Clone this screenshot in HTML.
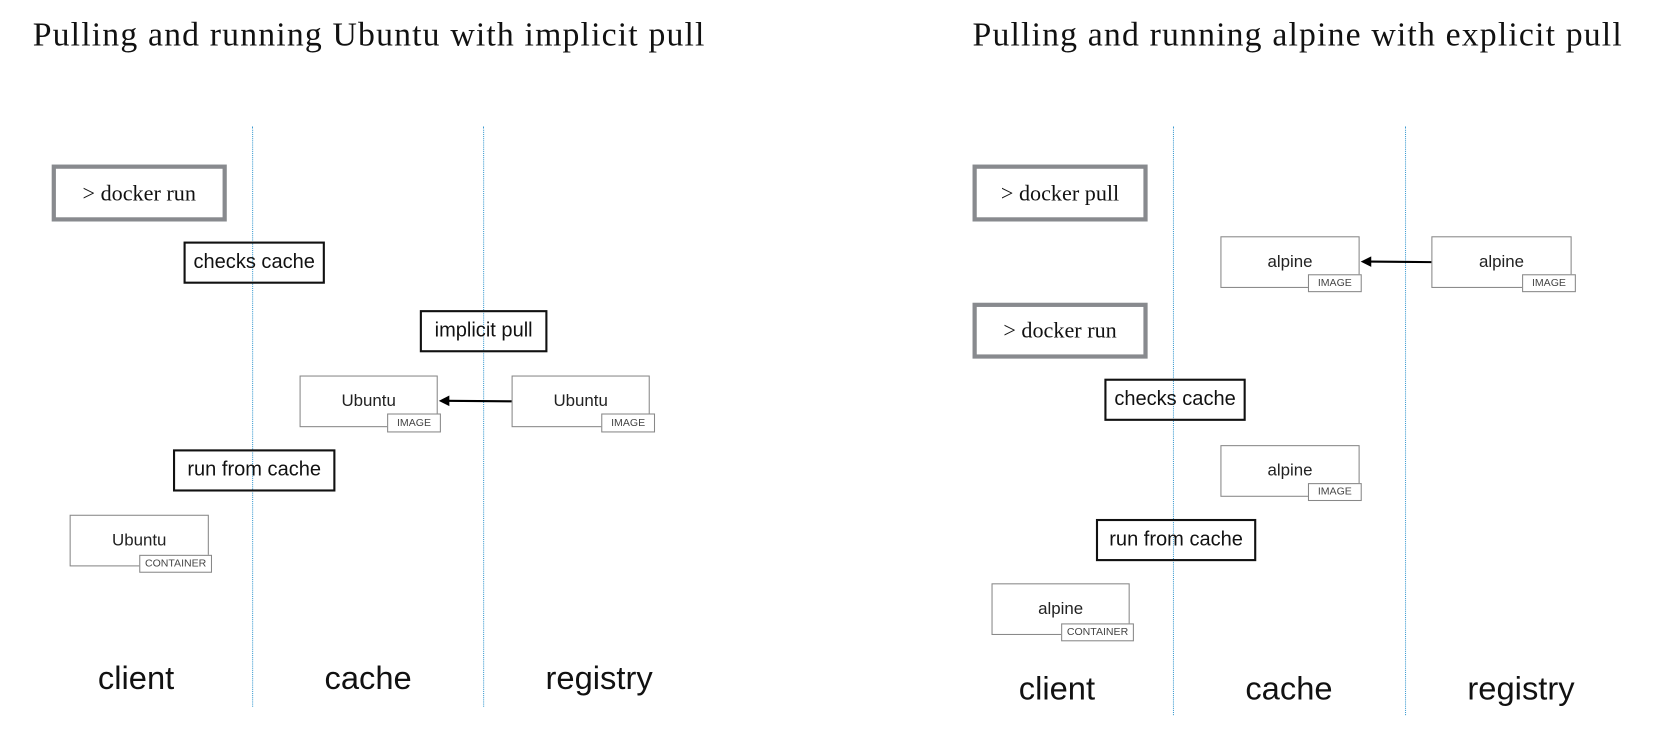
<!DOCTYPE html>
<html><head><meta charset="utf-8"><style>
body{margin:0;width:1654px;height:752px;background:#fff;position:relative;overflow:hidden;font-family:"Liberation Sans",sans-serif;}
#w{position:absolute;left:0;top:0;width:1568px;height:713px;transform:scale(1.0548);transform-origin:0 0;}
#w div{position:absolute;box-sizing:border-box;}
.t{font-family:"Liberation Serif",serif;font-size:32px;letter-spacing:1.1px;color:#111;white-space:nowrap;}
.cmd{border:4px solid #888a8e;font-family:"Liberation Serif",serif;font-size:21px;display:flex;align-items:center;justify-content:center;color:#111;}
.act{border:2px solid #111;font-size:19px;display:flex;align-items:center;justify-content:center;color:#111;white-space:nowrap;}
.obj{border:1px solid #888;font-size:16px;display:flex;align-items:center;justify-content:center;color:#222;background:#fff;}
.tag{border:1px solid #888;font-size:10px;display:flex;align-items:center;justify-content:center;color:#444;background:#fff;}
.v{width:0;border-left:1px dotted #3a9ad0;}
.lab{font-size:31px;color:#111;transform:translateX(-50%);white-space:nowrap;}
</style></head><body><div id="w">
<div class="t" style="left:31px;top:14px">Pulling and running Ubuntu with implicit pull</div>
<div class="t" style="left:922px;top:14px">Pulling and running alpine with explicit pull</div>

<div class="v" style="left:239px;top:120px;height:550px"></div>
<div class="v" style="left:458px;top:120px;height:550px"></div>
<div class="v" style="left:1112px;top:120px;height:558px"></div>
<div class="v" style="left:1332px;top:120px;height:558px"></div>

<div class="cmd" style="left:49px;top:156px;width:166px;height:54px">&gt; docker run</div>
<div class="act" style="left:174px;top:229px;width:134px;height:40px">checks cache</div>
<div class="act" style="left:398px;top:294px;width:121px;height:40px">implicit pull</div>
<div class="obj" style="left:284px;top:356px;width:131px;height:49px">Ubuntu</div>
<div class="tag" style="left:367px;top:392px;width:51px;height:18px">IMAGE</div>
<div class="obj" style="left:485px;top:356px;width:131px;height:49px">Ubuntu</div>
<div class="tag" style="left:570px;top:392px;width:51px;height:18px">IMAGE</div>
<div class="act" style="left:164px;top:426px;width:154px;height:40px">run from cache</div>
<div class="obj" style="left:66px;top:488px;width:132px;height:49px">Ubuntu</div>
<div class="tag" style="left:132px;top:526px;width:69px;height:17px">CONTAINER</div>
<div class="lab" style="left:129px;top:625px">client</div>
<div class="lab" style="left:349px;top:625px">cache</div>
<div class="lab" style="left:568px;top:625px">registry</div>

<div class="cmd" style="left:922px;top:156px;width:166px;height:54px">&gt; docker pull</div>
<div class="obj" style="left:1157px;top:224px;width:132px;height:49px">alpine</div>
<div class="tag" style="left:1240px;top:260px;width:51px;height:17px">IMAGE</div>
<div class="obj" style="left:1357px;top:224px;width:133px;height:49px">alpine</div>
<div class="tag" style="left:1443px;top:260px;width:51px;height:17px">IMAGE</div>
<div class="cmd" style="left:922px;top:287px;width:166px;height:53px">&gt; docker run</div>
<div class="act" style="left:1047px;top:359px;width:134px;height:40px">checks cache</div>
<div class="obj" style="left:1157px;top:422px;width:132px;height:49px">alpine</div>
<div class="tag" style="left:1240px;top:458px;width:51px;height:17px">IMAGE</div>
<div class="act" style="left:1039px;top:492px;width:152px;height:40px">run from cache</div>
<div class="obj" style="left:940px;top:553px;width:131px;height:49px">alpine</div>
<div class="tag" style="left:1006px;top:591px;width:69px;height:17px">CONTAINER</div>
<div class="lab" style="left:1002px;top:635px">client</div>
<div class="lab" style="left:1222px;top:635px">cache</div>
<div class="lab" style="left:1442px;top:635px">registry</div>

<svg width="1568" height="713" style="position:absolute;left:0;top:0">
<line x1="485" y1="380.5" x2="424" y2="380" stroke="#000" stroke-width="2"/>
<polygon points="416,380 426,375 426,385" fill="#000"/>
<line x1="1357" y1="248.5" x2="1298" y2="248" stroke="#000" stroke-width="2"/>
<polygon points="1290,248 1300,243 1300,253" fill="#000"/>
</svg>
</div></body></html>
